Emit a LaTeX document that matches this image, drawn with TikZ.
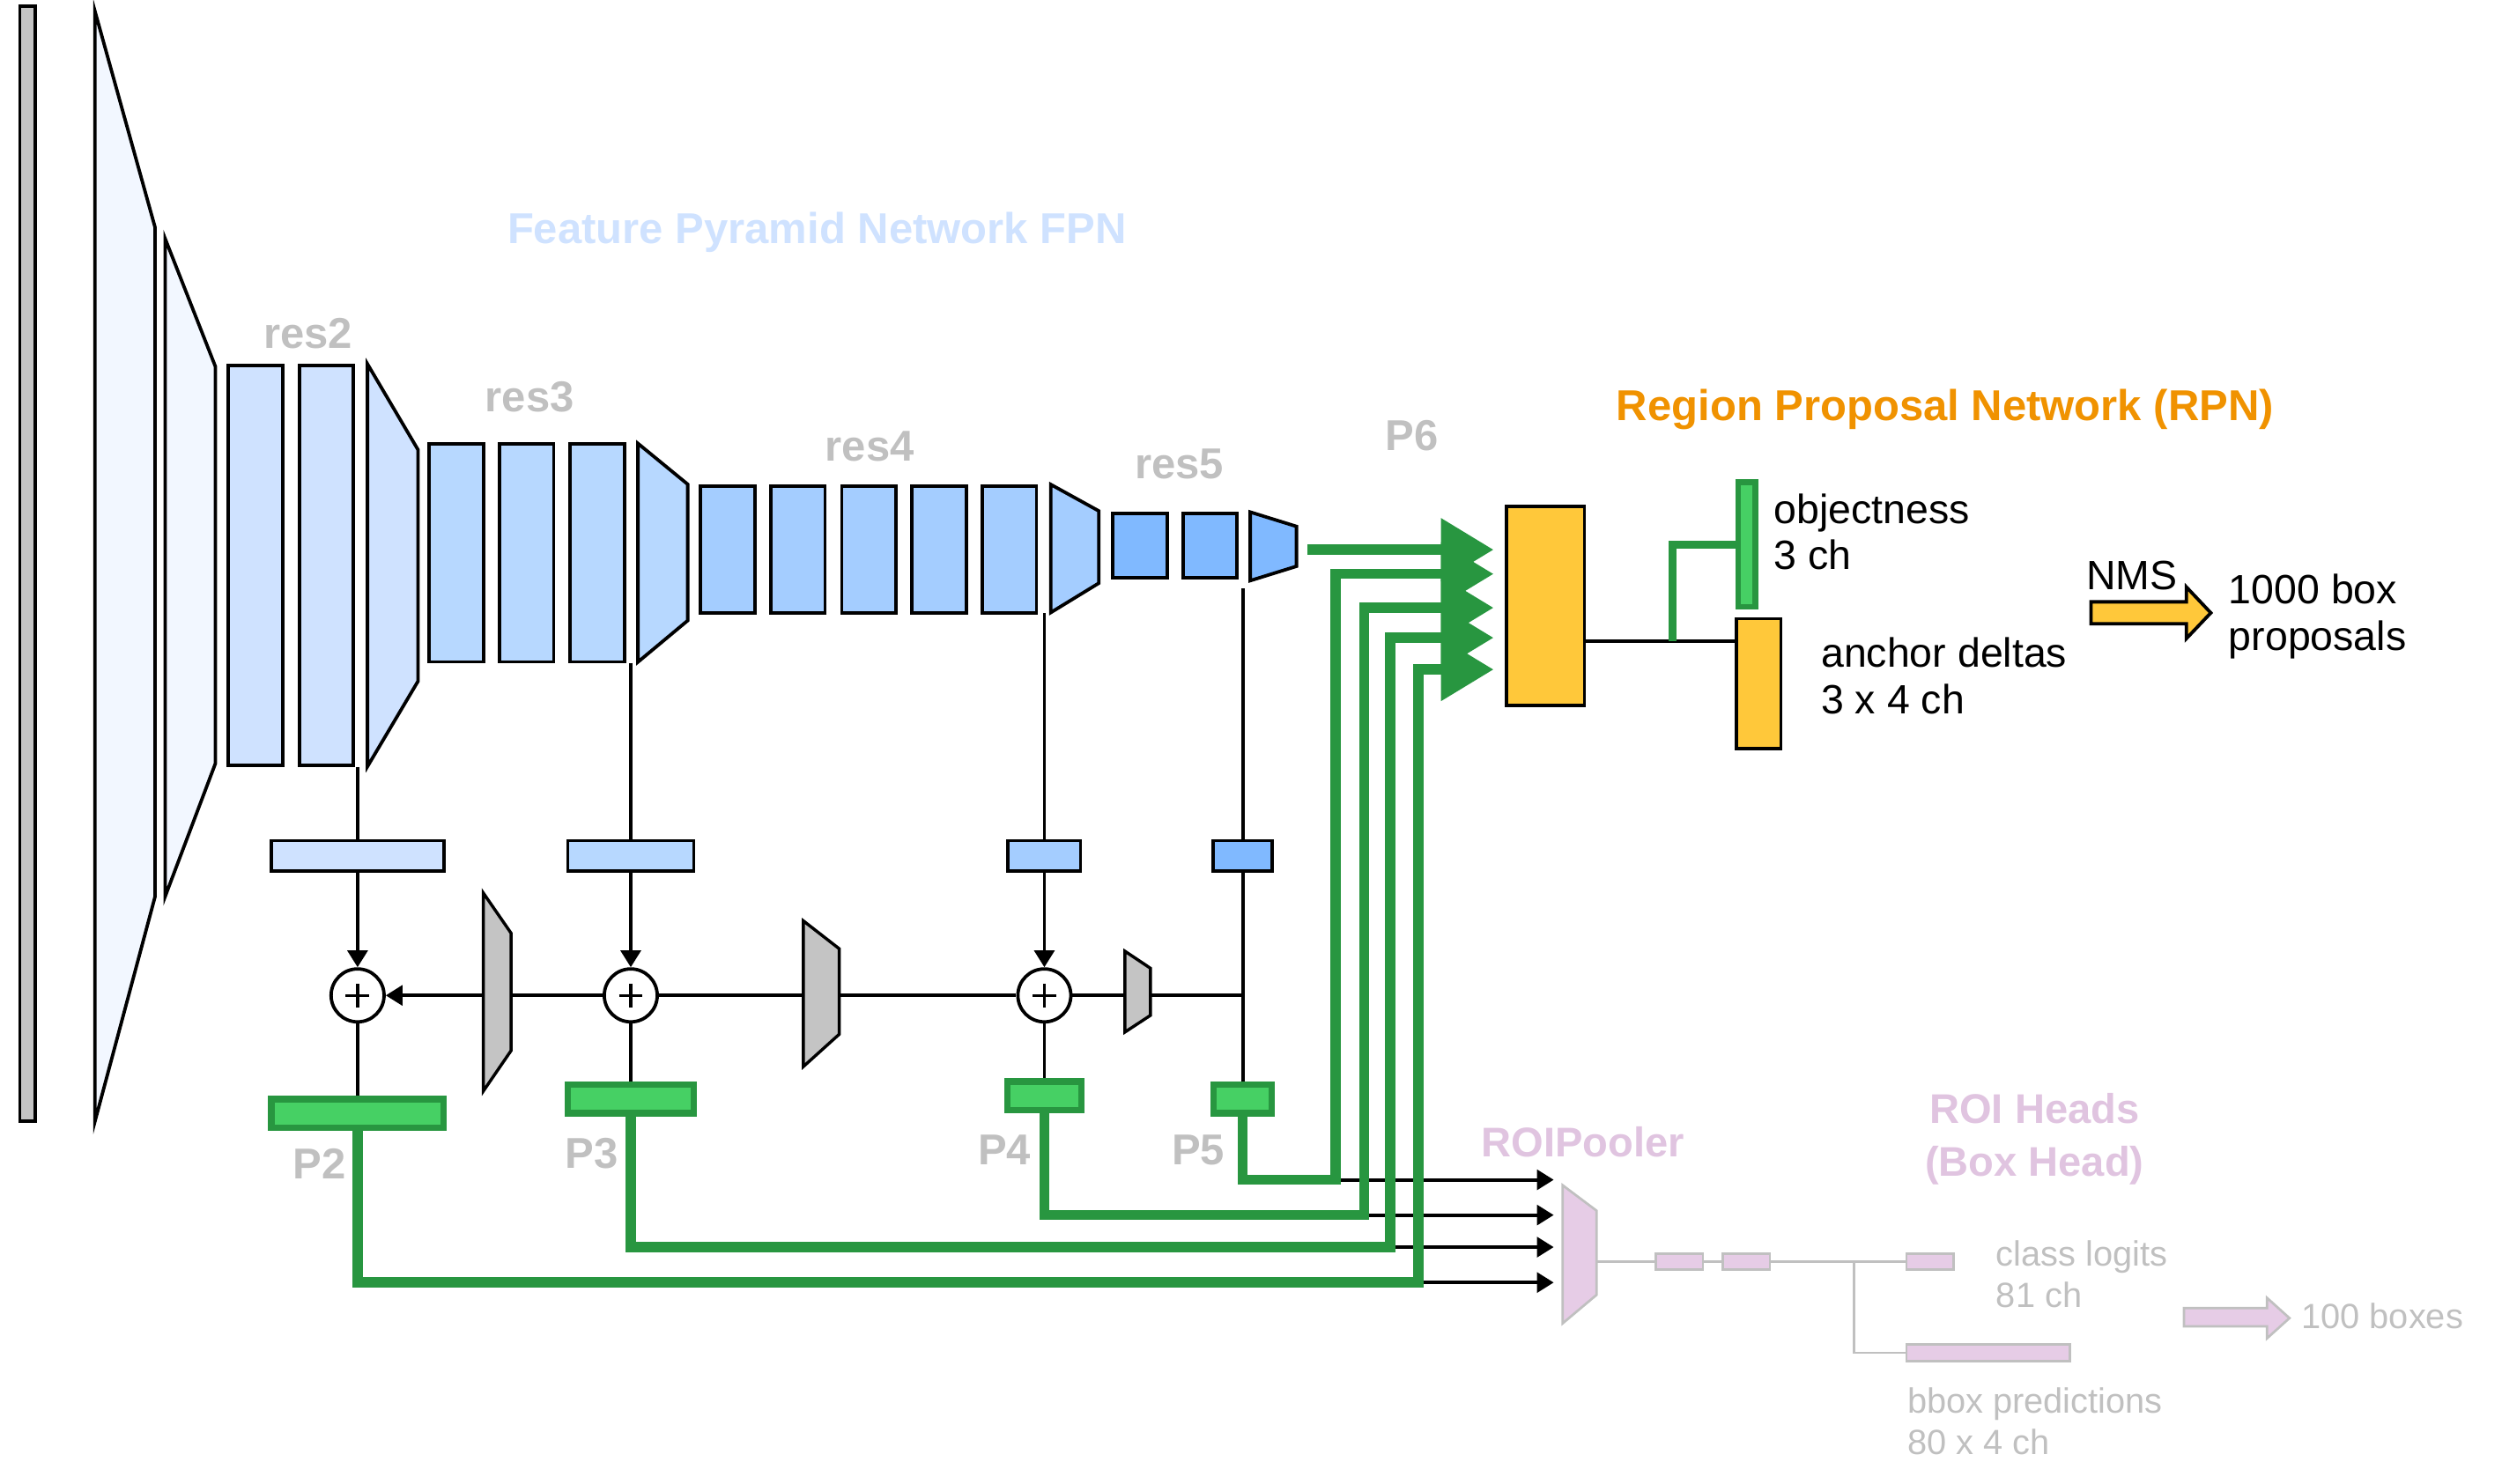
\documentclass[tikz,border=0pt]{standalone}
\usepackage{fontspec}
\setmainfont{Liberation Sans}
\usetikzlibrary{arrows.meta}
\definecolor{bar_gray}{RGB}{196,196,196}
\definecolor{stem_fil}{RGB}{242,247,255}
\definecolor{res2_fil}{RGB}{207,226,255}
\definecolor{res3_fil}{RGB}{183,216,255}
\definecolor{res4_fil}{RGB}{164,205,255}
\definecolor{res5_fil}{RGB}{128,185,255}
\definecolor{green_out}{RGB}{40,150,64}
\definecolor{green_fil}{RGB}{70,208,100}
\definecolor{yellow_fil}{RGB}{255,200,58}
\definecolor{orange_txt}{RGB}{240,146,0}
\definecolor{label_gray}{RGB}{192,192,192}
\definecolor{roi_fil}{RGB}{230,204,230}
\definecolor{roi_txt}{RGB}{224,196,224}
\newcommand\pxu{0.02cm}
\newcommand\fntbig{\fontsize{15.4pt}{18pt}\selectfont\bfseries}
\newcommand\fnttxt{\fontsize{14.6pt}{16.5pt}\selectfont}
\newcommand\fntsmall{\fontsize{12.5pt}{14.8pt}\selectfont}
\newcommand\fntroi{\fontsize{14.8pt}{18.8pt}\selectfont\bfseries}
\tikzset{res_block/.style = {draw, line width=0.042cm, inner sep=0pt, minimum width=34*\pxu}}
\tikzset{stem/.style = {draw, line width=0.042cm, line join=miter}}
\tikzset{upsample/.style = {draw, line width=0.038cm, fill=bar_gray}}
\tikzset{lat_conv/.style = {draw, line width=0.042cm, inner sep=0pt, minimum height=19*\pxu}}
\tikzset{p_out/.style = {draw=green_out, fill=green_fil, line width=0.08cm, inner sep=0pt, minimum height=17.8*\pxu}}
\tikzset{sum_node/.style = {circle, draw, fill=white, line width=0.042cm, inner sep=0pt, minimum size=33.2*\pxu,
  path picture={\draw[line width=0.036cm] (path picture bounding box.center) +(-7.4,0) -- +(7.4,0) +(0,-7.4) -- +(0,7.4);}}}
\tikzset{thin_line/.style = {line width=0.042cm}}
\tikzset{thin_arrow/.style = {line width=0.042cm, -{Triangle[length=0.21cm, width=0.25cm]}}}
\tikzset{green_arrow/.style = {draw=green_out, line width=0.128cm, -{Triangle[length=0.66cm, width=0.76cm]}}}
\tikzset{roi_box/.style = {draw=label_gray, fill=roi_fil, line width=0.03cm, inner sep=0pt, minimum height=10.2*\pxu}}
\tikzset{roi_line/.style = {draw=label_gray, line width=0.026cm}}
\tikzset{txt/.style = {inner sep=0pt}}

\begin{document}
\begin{tikzpicture}[x=\pxu, y=-\pxu]
\useasboundingbox (0,0) rectangle (1568,930);

% backbone
\node[res_block, fill=bar_gray, minimum width=9.7*\pxu, minimum height=699*\pxu] (img) at (17.3,353.5) {};
\draw[stem, fill=stem_fil] (59.5,7) -- (97.2,142.6) -- (97.2,562) -- (59.5,703) -- cycle;
\draw[stem, fill=stem_fil] (103.5,149.6) -- (135,229.8) -- (135,478.6) -- (103.5,562) -- cycle;
\foreach \x [count=\i] in {160.2,204.5}
	\node[res_block, fill=res2_fil, minimum height=250.5*\pxu] (res2_\i) at (\x,354.4) {};
\draw[stem, fill=res2_fil] (230.3,228.2) -- (262,282) -- (262,427) -- (230.3,480.5) -- cycle;
\foreach \x [count=\i] in {286,330,374.3}
	\node[res_block, fill=res3_fil, minimum height=136.7*\pxu] (res3_\i) at (\x,346.6) {};
\draw[stem, fill=res3_fil] (399.8,278) -- (431,303.6) -- (431,389) -- (399.8,415) -- cycle;
\foreach \x [count=\i] in {456,500,544.5,588.5,632.5}
	\node[res_block, fill=res4_fil, minimum height=79.5*\pxu] (res4_\i) at (\x,344.4) {};
\draw[stem, fill=res4_fil] (658.5,303.7) -- (688.6,320.3) -- (688.6,365.6) -- (658.5,384) -- cycle;
\foreach \x [count=\i] in {714.5,758.3}
	\node[res_block, fill=res5_fil, minimum height=40.2*\pxu] (res5_\i) at (\x,342) {};
\draw[stem, fill=res5_fil] (783.5,321) -- (812.5,330) -- (812.5,355) -- (783.5,364) -- cycle;

\node[txt, text=res2_fil, font=\fntbig] (fpn) at (512,145.5) {Feature Pyramid Network FPN};
\node[txt, text=label_gray, font=\fntbig] at (193,209) {res2};
\node[txt, text=label_gray, font=\fntbig] at (332,249) {res3};
\node[txt, text=label_gray, font=\fntbig] at (545,280) {res4};
\node[txt, text=label_gray, font=\fntbig] at (739,291) {res5};
\node[txt, text=label_gray, font=\fntbig] at (885,273) {P6};

\coordinate (o2) at (224.1,481);
\coordinate (o3) at (395.3,415.5);
\coordinate (o4) at (654.5,384.5);
\coordinate (o5) at (778.8,369);
\coordinate (o6) at (812.5,344.6);
\coordinate (j5) at (778.8,624);

% lateral 1x1 convs, sums, outputs
\foreach \n/\x/\w/\c in {1/224.1/108/res2_fil, 2/395.3/79/res3_fil, 3/654.5/45.4/res4_fil, 4/778.8/36.8/res5_fil}
	\node[lat_conv, fill=\c, minimum width=\w*\pxu] (lat\n) at (\x,536.5) {};
\foreach \n/\x in {1/224.1,2/395.3,3/654.5}
	\node[sum_node] (sum\n) at (\x,624) {};
\foreach \n/\x/\y/\w in {2/224.1/697.9/108, 3/395.3/689/78.6, 4/654.5/686.9/46.7, 5/778.8/689/36.4}
	\node[p_out, minimum width=\w*\pxu] (p\n) at (\x,\y) {};

\draw[upsample] (302.9,559.8) -- (320.3,585) -- (320.3,658.6) -- (302.9,684) -- cycle;
\draw[upsample] (503.5,577.3) -- (526,594.8) -- (526,648.3) -- (503.5,668.6) -- cycle;
\draw[upsample] (705,596.3) -- (721,607) -- (721,636.5) -- (705,647) -- cycle;
\coordinate (up1l) at (302.9,624); \coordinate (up1r) at (320.3,624);
\coordinate (up2l) at (503.5,624); \coordinate (up2r) at (526,624);
\coordinate (up3l) at (705,624); \coordinate (up3r) at (721,624);

\draw[thin_line] (o2) -- (lat1.north);
\draw[thin_line] (o3) -- (lat2.north);
\draw[thin_line] (o4) -- (lat3.north);
\draw[thin_line] (o5) -- (lat4.north);
\foreach \n [evaluate=\n as \m using int(\n+1)] in {1,2,3}{
	\draw[thin_arrow] (lat\n.south) -- (sum\n.north);
	\draw[thin_line] (sum\n.south) -- (p\m.north);
	}
\draw[thin_line] (lat4.south) -- (p5.north);
\draw[thin_line] (j5) -- (up3r) (up3l) -- (sum3.east) (sum3.west) -- (up2r) (up2l) -- (sum2.east) (sum2.west) -- (up1r);
\draw[thin_arrow] (up1l) -- (sum1.east);

\node[txt, text=label_gray, font=\fntbig] at (200.3,729.4) {P2};
\node[txt, text=label_gray, font=\fntbig] at (370.7,723) {P3};
\node[txt, text=label_gray, font=\fntbig] at (629.5,720.8) {P4};
\node[txt, text=label_gray, font=\fntbig] at (751,720.8) {P5};

% RPN
\node[res_block, fill=yellow_fil, minimum width=48.8*\pxu, minimum height=124.6*\pxu] (rpn) at (968.6,379.8) {};
\node[draw=green_out, fill=green_fil, line width=0.07cm, inner sep=0pt, minimum width=10.9*\pxu, minimum height=77.9*\pxu] (obj) at (1094.6,341.3) {};
\node[res_block, fill=yellow_fil, minimum width=27.8*\pxu, minimum height=81.4*\pxu] (deltas) at (1102.2,428.6) {};
\foreach \k/\y in {1/344.6,2/359.8,3/381,4/399.8,5/419.7}
	\coordinate (in\k) at (936,\y);
\coordinate (rpnout) at (rpn.east |- 0,401.8);
\coordinate (split) at (1048,401.8);
\draw[thin_line] (rpnout) -- (deltas.west |- rpnout);
\draw[draw=green_out, line width=0.1cm] (split) |- (obj.west);

\node[txt, text=orange_txt, font=\fntbig] at (1219,256.5) {Region Proposal Network (RPN)};
\node[txt, font=\fnttxt, align=left, anchor=west] at (1111.4,333.5) {objectness\\3 ch};
\node[txt, font=\fnttxt, align=left, anchor=west] at (1141,423.8) {anchor deltas\\3 x 4 ch};
\node[txt, font=\fnttxt] at (1336,360.7) {NMS};
\node[txt, font=\fnttxt, align=left, anchor=west] at (1396.4,386.5) {1000 box\\proposals};
\draw[line width=0.042cm, fill=yellow_fil] (1310.4,377.3) -- (1370.2,377.3) -- (1370.2,368) -- (1385.5,384.2) -- (1370.2,400.3) -- (1370.2,391) -- (1310.4,391) -- cycle;

% feature maps to RPN and ROIPooler
\draw[green_arrow, shorten <=7*\pxu] (o6) -- (in1);
\foreach \p/\cx/\cy/\k in {5/837/739.6/2, 4/855/761.7/3, 3/871.3/781.8/4, 2/889/804/5}{
	\coordinate (turn\p) at (\cx,\cy);
	\coordinate (pool\p) at (973.7,\cy);
	\draw[thin_arrow] (turn\p) -- (pool\p);
	\draw[green_arrow] (p\p.south) |- (turn\p) |- (in\k);
	}

% ROI heads
\draw[roi_box] (979.3,743) -- (1000.6,759) -- (1000.6,811.7) -- (979.3,829.6) -- cycle;
\coordinate (poolout) at (1000.6,790.9);
\node[roi_box, minimum width=29.5*\pxu] (fc1) at (1052.5,790.9) {};
\node[roi_box, minimum width=29.5*\pxu] (fc2) at (1094.5,790.9) {};
\node[roi_box, minimum width=29.5*\pxu] (cls) at (1209.5,790.9) {};
\node[roi_box, minimum width=102.5*\pxu] (bbox) at (1246,848) {};
\coordinate (branch) at (1162,790.9);
\draw[roi_line] (poolout) -- (fc1) (fc1) -- (fc2) (fc2) -- (cls);
\draw[roi_line] (branch) |- (bbox.west);
\draw[roi_box] (1368.7,820) -- (1420.7,820) -- (1420.7,813.6) -- (1434.8,826.3) -- (1420.7,839) -- (1420.7,831.5) -- (1368.7,831.5) -- cycle;

\node[txt, text=roi_txt, font=\fntroi] at (992,716) {ROIPooler};
\node[txt, text=roi_txt, font=\fntroi, align=center] at (1275,714) {ROI Heads\\(Box Head)};
\node[txt, text=label_gray, font=\fntsmall, align=left, anchor=west] at (1250.7,799) {class logits\\81 ch};
\node[txt, text=label_gray, font=\fntsmall, align=left, anchor=west] at (1195,891) {bbox predictions\\80 x 4 ch};
\node[txt, text=label_gray, font=\fntsmall, anchor=west] at (1442,825) {100 boxes};
\end{tikzpicture}
\end{document}
